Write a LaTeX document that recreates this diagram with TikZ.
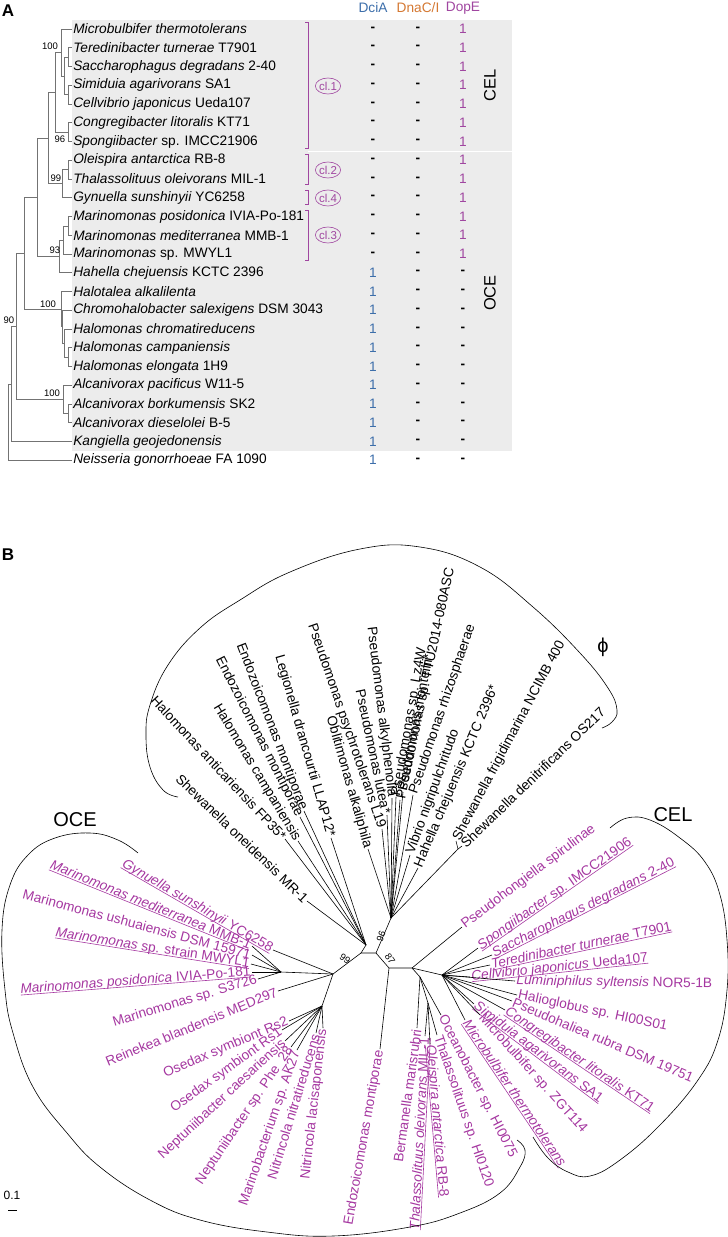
\documentclass[tikz,border=0pt]{standalone}
\usepackage{fontspec}
\setmainfont{Liberation Sans}
\usepackage{xcolor}
\definecolor{treegray}{gray}{0.45}
\definecolor{bggray}{gray}{0.925}
\definecolor{dopepurple}{RGB}{160,70,160}
\definecolor{dciablue}{RGB}{60,110,170}
\definecolor{dnacorange}{RGB}{212,120,50}
\definecolor{ocepurple}{RGB}{165,55,160}
\usepackage{tikz}
\usetikzlibrary{shapes.geometric}
\newcommand{\spfont}{\fontsize{13.7}{15}\selectfont}
\newcommand{\bootfont}{\fontsize{9.5}{10}\selectfont}
\newcommand{\clfont}{\fontsize{11.5}{12}\selectfont}
\newcommand{\grpfont}{\fontsize{20}{22}\selectfont}
\newcommand{\grpAfont}{\fontsize{16.5}{18}\selectfont}
\newcommand{\ulab}[1]{\setbox0\hbox{#1}\rlap{\rule[-1.6pt]{\wd0}{0.6pt}}\box0}

\begin{document}
\begin{tikzpicture}[x=1pt,y=-1pt,line width=0.6pt,
    spc/.style={anchor=west,inner sep=1pt,font=\spfont},
    lbl/.style={inner sep=1.2pt,font=\spfont},
    boot/.style={inner sep=0pt,font=\bootfont},
    val/.style={inner sep=0pt,font=\spfont},
    brk/.style={draw=dopepurple,line width=0.6pt},
    clu/.style={draw=dopepurple,text=dopepurple,ellipse,inner sep=0pt,
      minimum width=25pt,minimum height=16pt,line width=0.6pt,font=\clfont},
    twig/.style={draw=treegray,line width=0.7pt},
    panel/.style={font=\fontsize{17}{18}\selectfont\bfseries,inner sep=0pt},
  ]
  \useasboundingbox (0,0) rectangle (728,1237);

  % ---------------- panel A ----------------
  \node[panel] (pA) at (8,11) {A};
  \fill[bggray] (72,20) rectangle (512,451);
  \draw[white,line width=1.2pt] (308,151.5) -- (512,151.5);

  %  species names, one row each
  \foreach \i/\txt in {
      0/{\textit{Microbulbifer thermotolerans}},
      1/{\textit{Teredinibacter turnerae} T7901},
      2/{\textit{Saccharophagus degradans} 2-40},
      3/{\textit{Simiduia agarivorans} SA1},
      4/{\textit{Cellvibrio japonicus} Ueda107},
      5/{\textit{Congregibacter litoralis} KT71},
      6/{\textit{Spongiibacter} sp. IMCC21906},
      7/{\textit{Oleispira antarctica} RB-8},
      8/{\textit{Thalassolituus oleivorans} MIL-1},
      9/{\textit{Gynuella sunshinyii} YC6258},
      10/{\textit{Marinomonas posidonica} IVIA-Po-181},
      11/{\textit{Marinomonas mediterranea} MMB-1},
      12/{\textit{Marinomonas} sp. MWYL1},
      13/{\textit{Hahella chejuensis} KCTC 2396},
      14/{\textit{Halotalea alkalilenta}},
      15/{\textit{Chromohalobacter salexigens} DSM 3043},
      16/{\textit{Halomonas chromatireducens}},
      17/{\textit{Halomonas campaniensis}},
      18/{\textit{Halomonas elongata} 1H9},
      19/{\textit{Alcanivorax pacificus} W11-5},
      20/{\textit{Alcanivorax borkumensis} SK2},
      21/{\textit{Alcanivorax dieselolei} B-5},
      22/{\textit{Kangiella geojedonensis}},
      23/{\textit{Neisseria gonorrhoeae} FA 1090}}
    \node[spc] (s\i) at (72,{29+18.75*\i}) {\txt};

  %  columns DciA, DnaC/I, DopE
  \node[val,text=dciablue] (hdA) at (373,8) {DciA};
  \node[val,text=dnacorange] (hdB) at (418,8) {DnaC/I};
  \node[val,text=dopepurple] (hdC) at (463,8) {DopE};
  \foreach \i in {0,...,12} {
    \node[val] (dc\i) at (373,{29+18.75*\i}) {\bfseries -};
    \node[val] (dn\i) at (418,{29+18.75*\i}) {\bfseries -};
    \node[val,text=dopepurple] (dp\i) at (463,{29+18.75*\i}) {1};
  }
  \foreach \i in {13,...,23} {
    \node[val,text=dciablue] (dc\i) at (373,{29+18.75*\i}) {1};
    \node[val] (dn\i) at (418,{29+18.75*\i}) {\bfseries -};
    \node[val] (dp\i) at (463,{29+18.75*\i}) {\bfseries -};
  }
  \node[font=\grpAfont,rotate=90,inner sep=0pt] (gcel) at (490,85) {CEL};
  \node[font=\grpAfont,rotate=90,inner sep=0pt] (goce) at (490,293) {OCE};

  %  clusters
  \draw[brk] (305,22) -- (308,22) -- (308,148) -- (305,148);
  \draw[brk] (305,154) -- (308,154) -- (308,184) -- (305,184);
  \draw[brk] (305,190) -- (308,190) -- (308,204) -- (305,204);
  \draw[brk] (305,210) -- (308,210) -- (308,260) -- (305,260);
  \node[clu] (cl1) at (328,86) {cl.1};
  \node[clu] (cl2) at (328,170) {cl.2};
  \node[clu] (cl4) at (328,198) {cl.4};
  \node[clu] (cl3) at (328,235) {cl.3};

  %  internal nodes of the tree
  \coordinate (a1) at (68,57.1);
  \coordinate (a2) at (68,94.6);
  \coordinate (a3) at (64,75.9);
  \coordinate (a4) at (61,52.4);
  \coordinate (a5) at (68,132.1);
  \coordinate (a6) at (55,92.3);
  \coordinate (a7) at (68,169.6);
  \coordinate (a8) at (62,183.7);
  \coordinate (a9) at (48,138);
  \coordinate (a10) at (68,225.9);
  \coordinate (a11) at (63,240);
  \coordinate (a12) at (59,256.4);
  \coordinate (a13) at (37,197.2);
  \coordinate (a14) at (68,357.1);
  \coordinate (a15) at (64,343.1);
  \coordinate (a16) at (62,326.7);
  \coordinate (a17) at (61,309.1);
  \coordinate (a18) at (24,253.2);
  \coordinate (a19) at (68,413.4);
  \coordinate (a20) at (63,399.3);
  \coordinate (a21) at (16,326.3);
  \coordinate (a22) at (11,383.9);
  \coordinate (a23) at (8,422);
  \foreach \p/\c in {a1/s1.west,a1/s2.west,a2/s3.west,a2/s4.west,a3/a1,a3/a2,
      a4/s0.west,a4/a3,a5/s5.west,a5/s6.west,a6/a4,a6/a5,a7/s7.west,a7/s8.west,
      a8/a7,a8/s9.west,a9/a6,a9/a8,a10/s10.west,a10/s11.west,a11/a10,a11/s12.west,
      a12/a11,a12/s13.west,a13/a9,a13/a12,a14/s17.west,a14/s18.west,a15/s16.west,
      a15/a14,a16/s15.west,a16/a15,a17/s14.west,a17/a16,a18/a13,a18/a17,
      a19/s20.west,a19/s21.west,a20/s19.west,a20/a19,a21/a18,a21/a20,
      a22/a21,a22/s22.west,a23/a22,a23/s23.west}
    \draw[twig] (\p) |- (\c);

  %  bootstrap values
  \node[boot] (b1) at (50,46) {100};
  \node[boot] (b2) at (60,139) {96};
  \node[boot] (b3) at (56,178) {99};
  \node[boot] (b4) at (55,250) {93};
  \node[boot] (b5) at (48,304) {100};
  \node[boot] (b6) at (52,393) {100};
  \node[boot] (b7) at (9,320) {90};

  % ---------------- panel B ----------------
  \node[panel] (pB) at (8,555) {B};

  %  centre of the unrooted tree
  \coordinate (cL) at (361,953);
  \coordinate (cX) at (376,953);
  \coordinate (cY) at (389,968);
  \coordinate (cZ) at (412,968);
  \coordinate (oce) at (333,974);
  \coordinate (mar) at (281,972);
  \coordinate (osx) at (322,1006);
  \coordinate (phiL) at (366,945);
  \coordinate (phiR) at (391,918);
  \coordinate (shw) at (458,849);
  \coordinate (cel) at (442,975);
  \coordinate (clb) at (420,977);
  \coordinate (clc) at (428,1003);
  \draw (oce) -- (cL) -- (cX) -- (phiR) -- (shw);
  \draw (cL) -- (phiL);
  \draw (cX) -- (cY) -- (cZ) -- (cel);
  \draw (cZ) -- (clb) -- (clc);
  \draw (oce) -- (mar);
  \draw (oce) -- (osx);
  \node[boot,rotate=-35] (b8) at (345,959) {99};
  \node[boot,rotate=70] (b9) at (381,936) {96};
  \node[boot,rotate=-55] (b10) at (390,959) {87};

  %  phi group
  \foreach \nm/\x/\y/\pa/\rot/\anc/\txt in {
      soneid/307/901/phiL/-44/east/{Shewanella oneidensis MR-1},
      hanti/285/839/phiL/-47/east/{Halomonas anticariensis FP35*},
      hcamp/298/841/phiL/-59/east/{Halomonas campaniensis},
      endoa/300/817/phiL/-63/east/{Endozoicomonas montiporae},
      endob/304/811/phiL/-69/east/{Endozoicomonas montiporae},
      legio/331/838/phiL/-74/east/{Legionella drancourtii LLAP12*},
      oblit/368/849/phiR/-74/east/{Oblitimonas alkaliphila},
      psych/382/829/phiR/-71/east/{Pseudomonas psychrotolerans L19},
      lutea/387/815/phiR/-78/east/{Pseudomonas lutea*},
      alkyl/392/798/phiR/-83/east/{Pseudomonas alkylphenolia},
      lzw/396/797/phiR/80/west/{Pseudomonas sp. Lz4W},
      montei/400/800/phiR/79/west/{Pseudomonas monteilii*},
      ttu/403/792/phiR/78/west/{Pseudomonas sp. TTU2014-080ASC},
      rhizo/413/795/phiR/71/west/{Pseudomonas rhizosphaerae},
      vibrio/410/855/phiR/70/west/{Vibrio nigripulchritudo},
      hahel/418/868/phiR/67/west/{Hahella chejuensis KCTC 2396*},
      sfrig/456/841/shw/62/west/{Shewanella frigidimarina NCIMB 400},
      sdeni/462/846/shw/44/west/{Shewanella denitrificans OS217}}{
    \coordinate (\nm) at (\x,\y);
    \draw (\pa) -- (\nm);
    \node[lbl,anchor=\anc,rotate=\rot] (\nm-t) at (\nm) {\txt};
  }

  %  OCE group
  \foreach \nm/\x/\y/\pa/\rot/\txt in {
      gynu/273/950/oce/-30/{\ulab{\textit{Gynuella sunshinyii} YC6258}},
      mmed/252/946/mar/-22/{\ulab{\textit{Marinomonas mediterranea} MMB-1}},
      mush/252/955/mar/-15/{Marinomonas ushuaiensis DSM 15971},
      mmwy/251/964/mar/-9/{\ulab{\textit{Marinomonas} sp. strain MWYL1}},
      mpos/252/972/mar/4.5/{\ulab{\textit{Marinomonas posidonica} IVIA-Po-181}},
      msts/258/979/mar/17/{Marinomonas sp. S3726},
      rein/278/991/oce/22.5/{Reinekea blandensis MED297},
      rsb/289/1021/osx/23/{Osedax symbiont Rs2},
      rsa/282/1030/osx/36/{Osedax symbiont Rs1},
      ncae/285/1041/osx/43/{Neptuniibacter caesariensis},
      nphe/291/1047/osx/56/{Neptuniibacter sp. Phe\_28},
      mak/297/1050/osx/71/{Marinobacterium sp. AK27},
      nnit/316/1033/osx/73/{Nitrincola nitratireducens},
      nlac/323/1028/osx/83.5/{Nitrincola lacisaponensis},
      endoc/380/1049/cY/80/{Endozoicomonas montiporae},
      berm/417/1028/clb/82/{Bermanella marisrubri},
      tolei/425/1036/clc/87/{\ulab{\textit{Thalassolituus oleivorans} MIL-1}}}{
    \coordinate (\nm) at (\x,\y);
    \draw (\pa) -- (\nm);
    \node[lbl,anchor=east,rotate=\rot,text=ocepurple] (\nm-t) at (\nm) {\txt};
  }

  %  CEL group and its neighbours
  \foreach \nm/\x/\y/\pa/\rot/\txt in {
      oleis/430/1044/clc/-85/{\ulab{\textit{Oleispira antarctica} RB-8}},
      thsp/437/1035/clc/-71/{Thalassolituus sp. HI0120},
      ocean/441/1015/clb/-63/{Oceanobacter sp. HI0075},
      pshong/462/927/cZ/37/{Pseudohongiella spirulinae},
      spong/478/948/cel/35/{\ulab{\textit{Spongiibacter} sp. IMCC21906}},
      sacch/492/955/cel/27/{\ulab{\textit{Saccharophagus degradans} 2-40}},
      tered/490/965/cel/12/{\ulab{\textit{Teredinibacter turnerae} T7901}},
      cellv/470/977/cel/6/{\ulab{\textit{Cellvibrio japonicus} Ueda107}},
      lumin/515/981/cel/-1/{\textit{Luminiphilus syltensis} NOR5-1B},
      halio/517/995/cel/-12/{Halioglobus sp. HI00S01},
      pshal/512/1001/cel/-23/{Pseudohaliea rubra DSM 19751},
      congr/505/1010/cel/-34/{\ulab{\textit{Congregibacter litoralis} KT71}},
      simid/474/1004/cel/-37/{\ulab{\textit{Simiduia agarivorans} SA1}},
      mzgt/480/1015/cel/-48/{Microbulbifer sp. ZGT114},
      mther/465/1020/cel/-56/{\ulab{\textit{Microbulbifer thermotolerans}}}}{
    \coordinate (\nm) at (\x,\y);
    \draw (\pa) -- (\nm);
    \node[lbl,anchor=west,rotate=\rot,text=ocepurple] (\nm-t) at (\nm) {\txt};
  }

  %  group outlines
  \draw plot[smooth,tension=0.7] coordinates {(138,853) (118,840) (90,833)
    (55,838) (28,855) (10,885) (2,930) (5,990) (13,1033) (33,1087) (67,1133)
    (100,1167) (150,1200) (200,1220) (267,1232) (333,1236) (410,1227)
    (460,1213) (500,1193) (520,1167) (525,1150) (517,1140)};
  \draw plot[smooth,tension=0.7] coordinates {(178,797) (163,790) (150,767)
    (146,735) (150,705) (168,665) (200,628) (240,600) (290,572) (360,549)
    (420,547) (480,567) (533,607) (580,653) (608,688) (617,710) (612,722)
    (602,728)};
  \draw plot[smooth,tension=0.7] coordinates {(610,828) (627,818) (650,820)
    (680,838) (705,862) (720,895) (727,940) (727,990) (718,1040) (698,1080)
    (660,1125) (620,1160) (590,1176) (568,1172) (548,1158) (533,1137)};
  \node[font=\grpfont,inner sep=0pt] (goceB) at (75,820) {OCE};
  \node[font=\grpfont,inner sep=0pt] (gcelB) at (673,815) {CEL};
  \node[font=\grpfont,inner sep=0pt] (gphi) at (603,647) {ϕ};

  %  scale bar
  \node[font=\fontsize{12}{13}\selectfont,inner sep=0pt] (sc) at (12,1195) {0.1};
  \draw (8,1210) -- (17,1210);
\end{tikzpicture}
\end{document}
